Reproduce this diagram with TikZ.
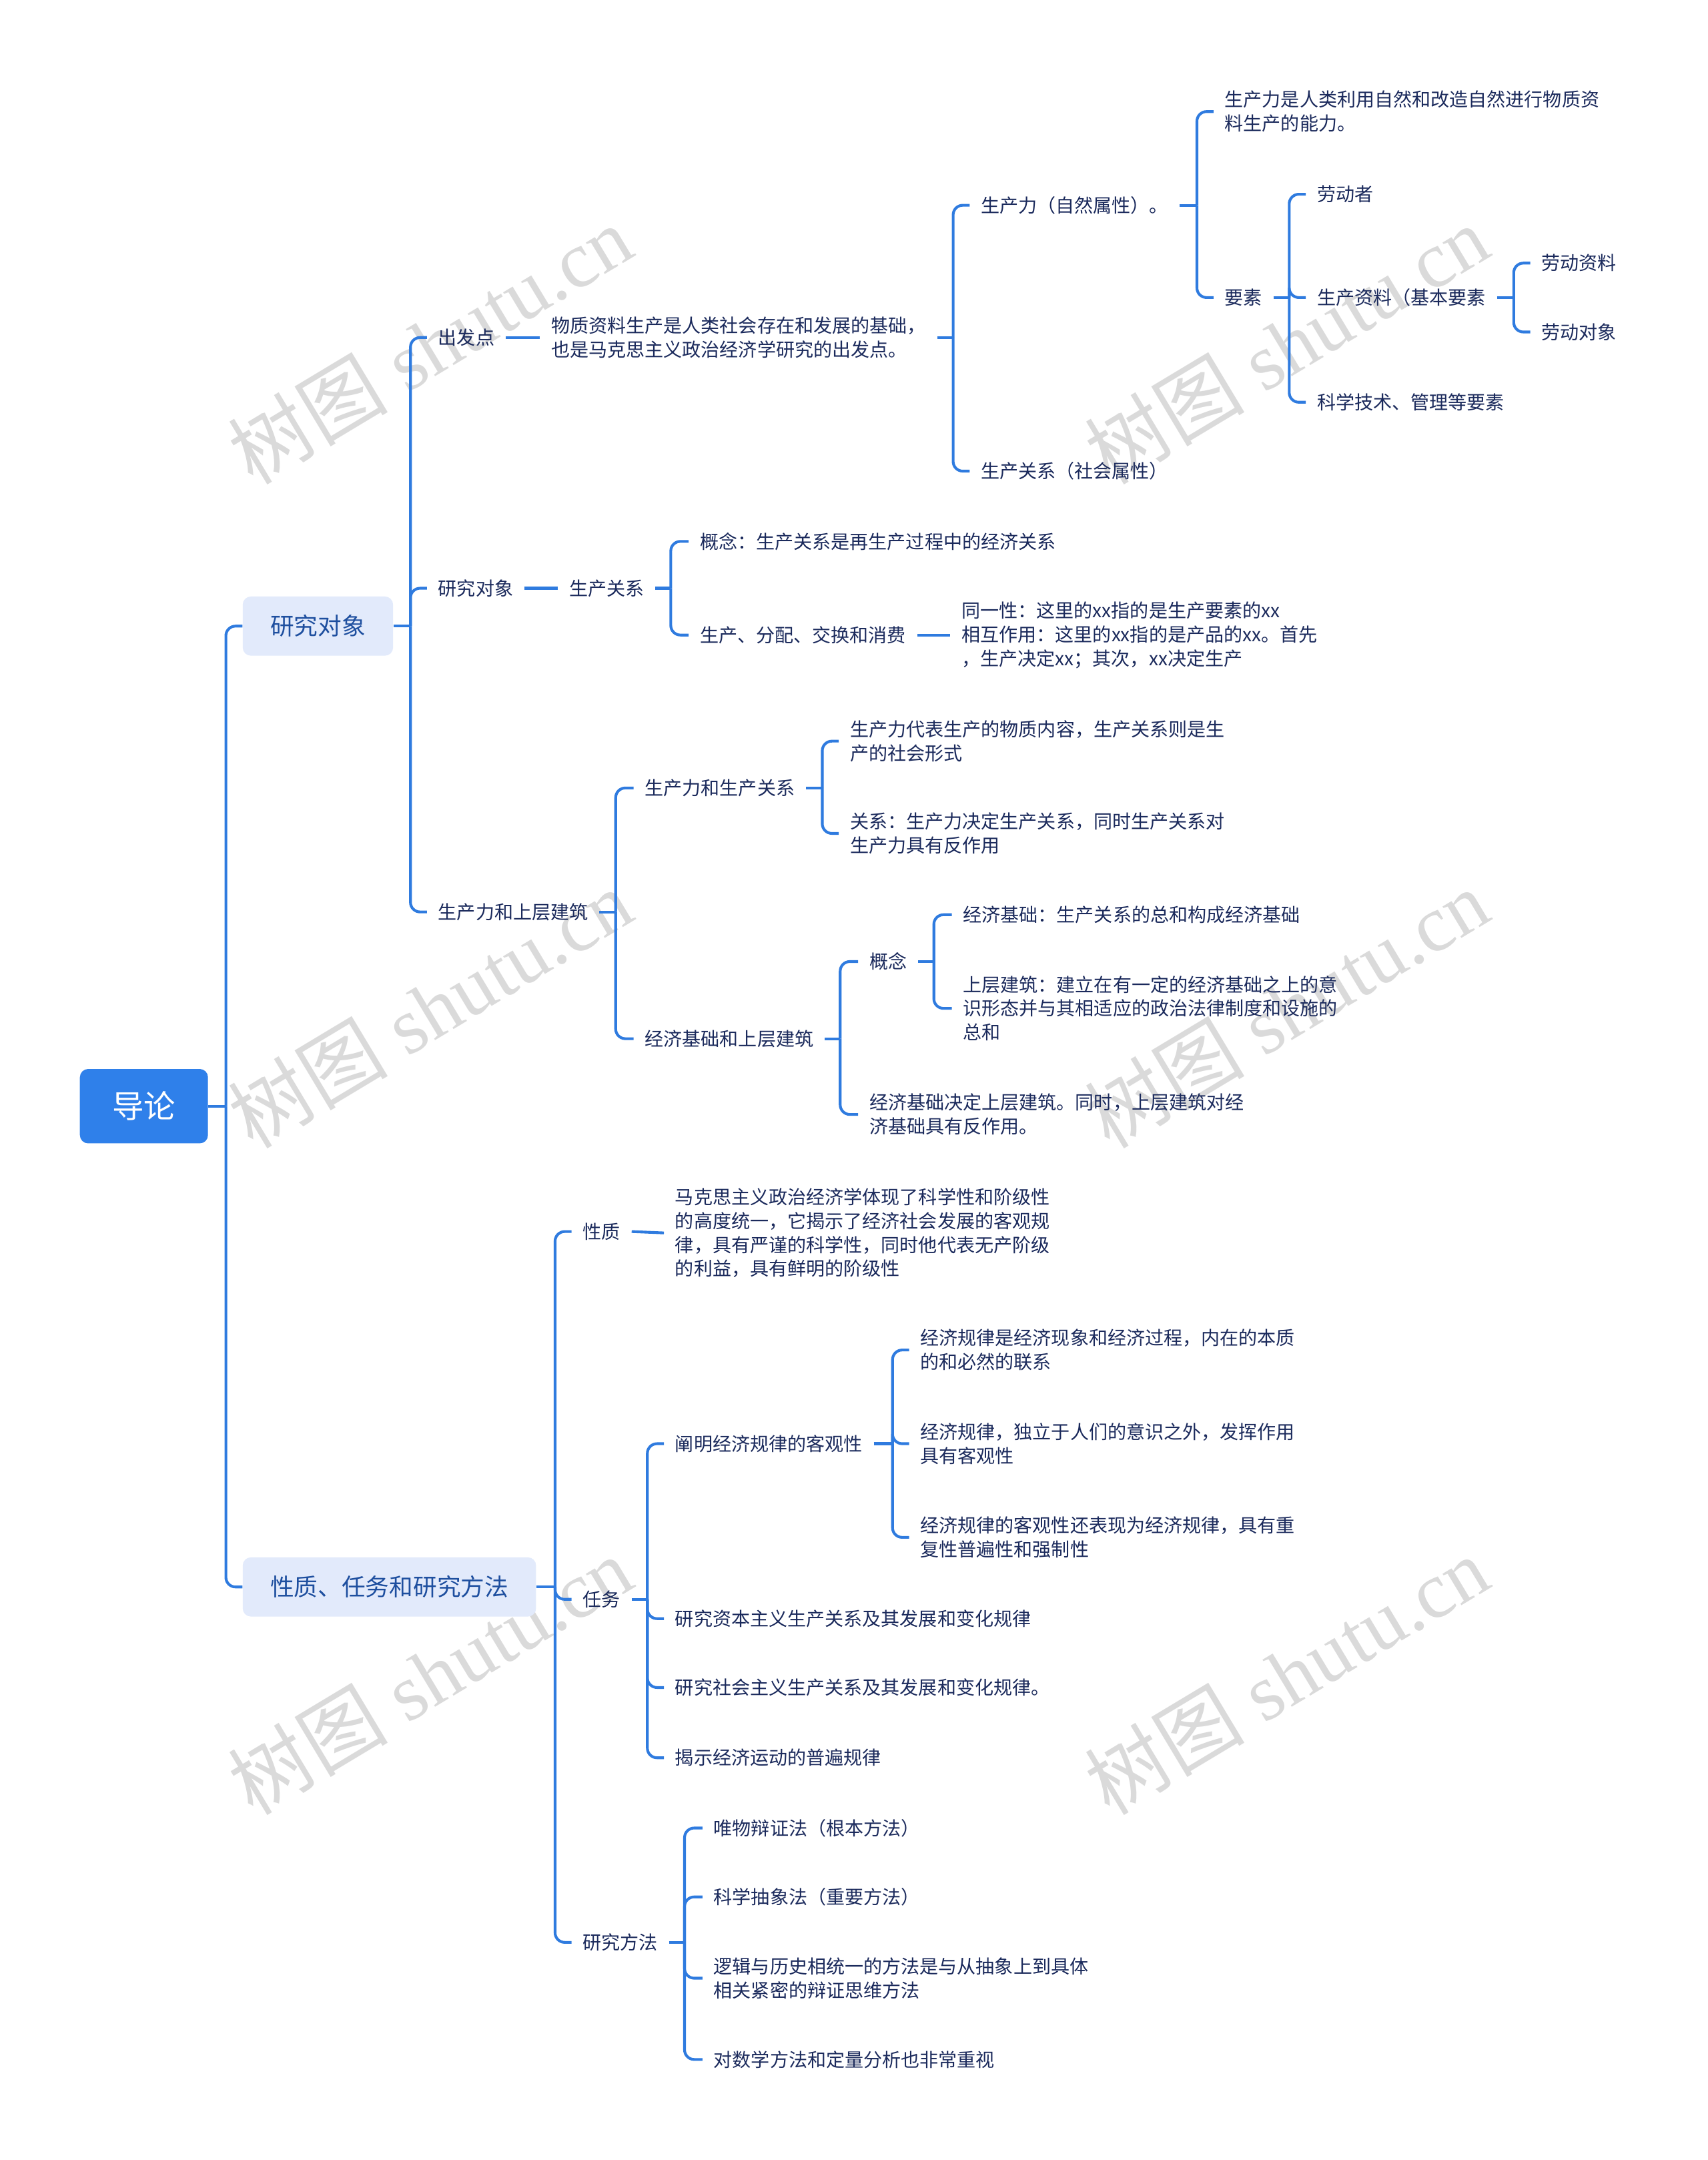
\documentclass[tikz,border=0pt]{standalone}
\usepackage{fontspec}
\newfontfamily\cjk{Noto Sans CJK SC}
\newfontfamily\wmfont{Liberation Serif}
\definecolor{txt}{HTML}{1B2A5C}
\definecolor{ln}{HTML}{2F7BDF}
\definecolor{rootc}{HTML}{2F80EA}
\definecolor{lonefill}{HTML}{E2EAFB}
\definecolor{lonetxt}{HTML}{1E4F9F}
\definecolor{wm}{HTML}{DADADA}
\tikzset{
  leaf/.style={font=\cjk\fontsize{13.6}{17.4}\selectfont, text=txt, inner xsep=8pt, inner ysep=2pt, align=left, anchor=west},
  conn/.style={draw=ln, line width=2pt, rounded corners=7pt},
  rootbox/.style={fill=rootc, text=white, rounded corners=6pt, minimum width=93pt, minimum height=54pt, font=\cjk\fontsize{23}{23}\selectfont, inner sep=0pt},
  lonebox/.style={fill=lonefill, text=lonetxt, rounded corners=6pt, minimum height=43pt, inner xsep=20pt, inner ysep=0pt, font=\cjk\fontsize{17.3}{17.3}\selectfont, anchor=west},
  wmark/.style={text=wm, rotate=31, inner sep=0pt, font=\wmfont\fontsize{58}{58}\selectfont},
}
\newcommand{\fork}[3]{%
  \coordinate (tmpbus) at (#2,0);
  \draw[conn] (#1.east) -- (#1.east -| tmpbus);
  \foreach \ch in {#3} {\draw[conn] (#1.east -| tmpbus) |- (\ch.west);}
}
\begin{document}
\begin{tikzpicture}[x=1pt,y=-1pt]
\useasboundingbox (0,0) rectangle (1240,1568);
\fill[white] (0,0) rectangle (1240,1568);

% watermarks
\foreach \wx/\wy [count=\i] in {312/250, 934/250, 312/732, 934/732, 312/1216, 934/1216}
  \node[wmark] (wm\i) at (\wx,\wy) {{\cjk 树图} shutu.cn};

% root and level 1
\node[rootbox] (root) at (104.5,803) {导论};
\node[lonebox] (A) at (176,454.5) {研究对象};
\node[lonebox] (B) at (176,1152) {性质、任务和研究方法};

% branch A
\node[leaf] (n1) at (310,245) {出发点};
\node[leaf] (n2) at (310,427) {研究对象};
\node[leaf] (n3) at (310,662) {生产力和上层建筑};

\node[leaf] (n1a) at (392,245) {物质资料生产是人类社会存在和发展的基础，\\也是马克思主义政治经济学研究的出发点。};
\node[leaf] (pa) at (704,149) {生产力（自然属性）。};
\node[leaf] (pb) at (704,342) {生产关系（社会属性）};
\node[leaf] (p1) at (881,81) {生产力是人类利用自然和改造自然进行物质资\\料生产的能力。};
\node[leaf] (p2) at (881,216) {要素};
\node[leaf] (e1) at (948,141) {劳动者};
\node[leaf] (e2) at (948,216) {生产资料（基本要素};
\node[leaf] (e3) at (948,292) {科学技术、管理等要素};
\node[leaf] (f1) at (1111,191) {劳动资料};
\node[leaf] (f2) at (1111,241) {劳动对象};

\node[leaf] (g) at (405,427) {生产关系};
\node[leaf] (g1) at (500,393) {概念：生产关系是再生产过程中的经济关系};
\node[leaf] (g2) at (500,461) {生产、分配、交换和消费};
\node[leaf] (h) at (690,461) {同一性：这里的xx指的是生产要素的xx\\相互作用：这里的xx指的是产品的xx。首先\\，生产决定xx；其次，xx决定生产};

\node[leaf] (k1) at (460,572) {生产力和生产关系};
\node[leaf] (k2) at (460,754) {经济基础和上层建筑};
\node[leaf] (k1a) at (609,538) {生产力代表生产的物质内容，生产关系则是生\\产的社会形式};
\node[leaf] (k1b) at (609,605) {关系：生产力决定生产关系，同时生产关系对\\生产力具有反作用};
\node[leaf] (k2a) at (623,698) {概念};
\node[leaf] (k2b) at (623,809) {经济基础决定上层建筑。同时，上层建筑对经\\济基础具有反作用。};
\node[leaf] (m1) at (691,664) {经济基础：生产关系的总和构成经济基础};
\node[leaf] (m2) at (691,732) {上层建筑：建立在有一定的经济基础之上的意\\识形态并与其相适应的政治法律制度和设施的\\总和};

% branch B
\node[leaf] (q1) at (415,894) {性质};
\node[leaf] (q2) at (415,1161) {任务};
\node[leaf] (q3) at (415,1410) {研究方法};
\node[leaf] (r) at (482,895) {马克思主义政治经济学体现了科学性和阶级性\\的高度统一，它揭示了经济社会发展的客观规\\律，具有严谨的科学性，同时他代表无产阶级\\的利益，具有鲜明的阶级性};
\node[leaf] (s1) at (482,1048) {阐明经济规律的客观性};
\node[leaf] (s2) at (482,1175) {研究资本主义生产关系及其发展和变化规律};
\node[leaf] (s3) at (482,1225) {研究社会主义生产关系及其发展和变化规律。};
\node[leaf] (s4) at (482,1276) {揭示经济运动的普遍规律};
\node[leaf] (t1) at (660,980) {经济规律是经济现象和经济过程，内在的本质\\的和必然的联系};
\node[leaf] (t2) at (660,1048) {经济规律，独立于人们的意识之外，发挥作用\\具有客观性};
\node[leaf] (t3) at (660,1116) {经济规律的客观性还表现为经济规律，具有重\\复性普遍性和强制性};
\node[leaf] (u1) at (510,1327) {唯物辩证法（根本方法）};
\node[leaf] (u2) at (510,1377) {科学抽象法（重要方法）};
\node[leaf] (u3) at (510,1436) {逻辑与历史相统一的方法是与从抽象上到具体\\相关紧密的辩证思维方法};
\node[leaf] (u4) at (510,1495) {对数学方法和定量分析也非常重视};

% connectors
\fork{root}{164}{A,B}
\fork{A}{298}{n1,n2,n3}
\draw[conn] (n1.east) -- (n1a.west);
\fork{n1a}{692}{pa,pb}
\fork{pa}{869}{p1,p2}
\fork{p2}{936}{e1,e2,e3}
\fork{e2}{1099}{f1,f2}
\draw[conn] (n2.east) -- (g.west);
\fork{g}{487}{g1,g2}
\draw[conn] (g2.east) -- (h.west);
\fork{n3}{447}{k1,k2}
\fork{k1}{597}{k1a,k1b}
\fork{k2}{610}{k2a,k2b}
\fork{k2a}{678}{m1,m2}
\fork{B}{403}{q1,q2,q3}
\draw[conn] (q1.east) -- (r.west);
\fork{q2}{470}{s1,s2,s3,s4}
\fork{s1}{648}{t1,t2,t3}
\fork{q3}{497}{u1,u2,u3,u4}
\end{tikzpicture}
\end{document}
